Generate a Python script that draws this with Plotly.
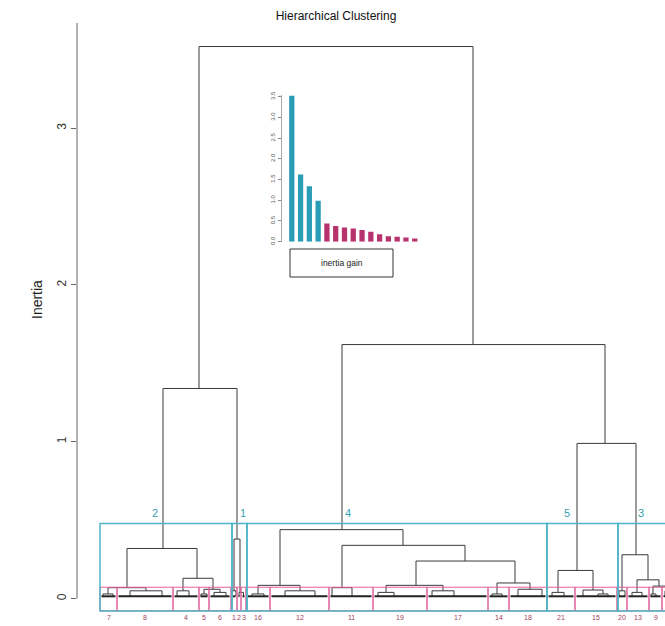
import plotly.graph_objects as go

W, H = 665, 626
FONT = "Liberation Sans, Arial, sans-serif"

title = "Hierarchical Clustering"
y_title = "Inertia"
legend_text = "inertia gain"

# inertia gain of the successive top merges (inset bar chart)
gain = [3.52, 1.62, 1.34, 0.99, 0.44, 0.38, 0.34, 0.32, 0.28, 0.24, 0.18, 0.13, 0.12, 0.10, 0.08]
n_clusters = 5

# dendrogram merges: leaf-order position of left / right child, merge height, child heights
link_xl = [99, 63, 242, 477, 180, 134, 242, 27, 522, 316, 458, 83, 537, 397, 286, 158, 8, 104, 483, 553]
link_xr = [373, 137, 505, 536, 303, 140, 365, 97, 548, 415, 493, 113, 559, 430, 343, 200, 46, 120, 503, 568]
link_h = [3.52, 1.34, 1.62, 0.99, 0.44, 0.38, 0.34, 0.32, 0.28, 0.24, 0.18, 0.13, 0.12, 0.10, 0.085, 0.085, 0.07, 0.06, 0.055, 0.08]
link_hl = [1.34, 0.32, 0.44, 0.18, 0.085, 0.05, 0.07, 0.07, 0.05, 0.085, 0.04, 0.05, 0.04, 0.03, 0.04, 0.03, 0.03, 0.03, 0.015, 0.03]
link_hr = [1.62, 0.38, 0.99, 0.28, 0.34, 0.04, 0.24, 0.13, 0.12, 0.10, 0.055, 0.06, 0.08, 0.06, 0.05, 0.05, 0.05, 0.04, 0.03, 0.05]

# low-level merges inside the sub-clusters
low_xl = [3, 30, 77, 101, 114, 132, 139, 152, 185, 232, 278, 332, 392, 418, 452, 498, 519, 532, 551, 565]
low_xr = [13, 62, 89, 107, 126, 136, 143.5, 164, 215, 252, 294, 354, 402, 442, 464, 508, 525, 542, 556, 571]
low_h = [0.03, 0.05, 0.05, 0.03, 0.04, 0.05, 0.04, 0.03, 0.05, 0.07, 0.04, 0.05, 0.03, 0.06, 0.04, 0.03, 0.05, 0.04, 0.03, 0.05]
leaf_h = 0.015

# sub-cluster partition (pink) and cluster partition (cyan)
sub_labels = ["7", "8", "4", "5", "6", "1", "2", "3", "16", "12", "11", "19", "17", "14", "18", "21", "15", "20", "13", "9", "10"]
sub_left = [0, 17, 73, 99, 109, 131, 137, 141, 146, 170, 229, 273, 327, 388, 409, 447, 475, 517, 527, 549, 562]
sub_right = sub_left[1:] + [620]
sub_top = 0.073

clu_labels = ["2", "1", "4", "5", "3"]
clu_left = [0, 132, 147, 447, 518]
clu_right = [132, 147, 447, 518, 640]
clu_label_pos = [55, 143, 248, 467, 541]
clu_top = 0.48

x_range = [-23, 565]
y_range = [-0.085, 3.67]

CYAN = "#4fb4c6"
PINK = "#e0609a"
DARK = "#3a3a3a"

fig = go.Figure()

# dendrogram links
lx, ly = [], []
for xl, xr, h, hl, hr in zip(link_xl, link_xr, link_h, link_hl, link_hr):
    lx += [xl, xl, xr, xr, None]
    ly += [hl, h, h, hr, None]
for xl, xr, h in zip(low_xl, low_xr, low_h):
    lx += [xl, xl, xr, xr, None]
    ly += [leaf_h, h, h, leaf_h, None]
fig.add_trace(go.Scatter(x=lx, y=ly, mode="lines", line=dict(color=DARK, width=1),
                         hoverinfo="skip", showlegend=False, xaxis="x", yaxis="y"))

# fused leaves baseline
bx, by = [], []
for a, b in zip(sub_left, sub_right):
    bx += [a + 1.5, b - 1.5, None]
    by += [leaf_h, leaf_h, None]
fig.add_trace(go.Scatter(x=bx, y=by, mode="lines", line=dict(color="#222222", width=2),
                         hoverinfo="skip", showlegend=False, xaxis="x", yaxis="y"))

shapes = []
annotations = []
for a, b in zip(sub_left, sub_right):
    shapes.append(dict(type="rect", xref="x", yref="y", x0=a, x1=b, y0=-0.078, y1=sub_top,
                       line=dict(color=PINK, width=1), layer="above"))
for a, b in zip(clu_left, clu_right):
    shapes.append(dict(type="rect", xref="x", yref="y", x0=a, x1=b, y0=-0.078, y1=clu_top,
                       line=dict(color=CYAN, width=1.5), layer="above"))
# main y axis line (R style, from 0 upward)
shapes.append(dict(type="line", xref="paper", yref="y", x0=0, x1=0, y0=0, y1=y_range[1],
                   line=dict(color="#666666", width=1)))

for lab, a, b in zip(sub_labels, sub_left, sub_right):
    annotations.append(dict(x=(a + b) / 2, y=-0.085, xref="x", yref="y", text=lab, showarrow=False,
                            yanchor="top", yshift=0, font=dict(family=FONT, size=7, color="#a0405e")))
for lab, p in zip(clu_labels, clu_label_pos):
    annotations.append(dict(x=p, y=0.545, xref="x", yref="y", text=lab, showarrow=False,
                            font=dict(family=FONT, size=11, color="#3a9fb2")))

# inset: inertia gain bars
bar_colors = [("#2a9db6" if i < n_clusters - 1 else "#b8336e") for i in range(len(gain))]
fig.add_trace(go.Bar(x=list(range(len(gain))), y=gain, marker=dict(color=bar_colors, line=dict(width=0)),
                     width=0.6, hoverinfo="skip", showlegend=False, xaxis="x2", yaxis="y2"))

# pixel helpers for paper coordinates
ml, mr, mt, mb = 77, 0, 23, 14
pw, ph = W - ml - mr, H - mt - mb
def px(xp):
    return (xp - ml) / pw
def py(yp):
    return (H - mb - yp) / ph

shapes.append(dict(type="rect", xref="paper", yref="paper", x0=px(290), x1=px(393), y0=py(277), y1=py(249),
                   line=dict(color="#333333", width=1)))
annotations.append(dict(x=px(341.5), y=py(263), xref="paper", yref="paper", text=legend_text, showarrow=False,
                        font=dict(family=FONT, size=8.5, color="#222222")))
annotations.append(dict(x=px(27), y=py(300), xref="paper", yref="paper", text=y_title, showarrow=False,
                        textangle=-90, font=dict(family=FONT, size=14, color="#222222")))

fig.update_layout(
    width=W, height=H,
    margin=dict(l=ml, r=mr, t=mt, b=mb),
    paper_bgcolor="white", plot_bgcolor="white",
    title=dict(text=title, x=336 / W, xanchor="center", y=1 - 16 / H, yanchor="middle",
               font=dict(family=FONT, size=12, color="#111111")),
    xaxis=dict(range=x_range, visible=False, domain=[0, 1]),
    yaxis=dict(range=y_range, tickvals=[0, 1, 2, 3], ticktext=["0", "1", "2", "3"], tickangle=-90,
               ticks="outside", ticklen=5, tickcolor="#666666", showline=False, showgrid=False,
               zeroline=False, tickfont=dict(family=FONT, size=12, color="#333333")),
    xaxis2=dict(domain=[px(283), px(420)], range=[-1, 14.6], anchor="y2", visible=False),
    yaxis2=dict(domain=[py(241.7), py(94.6)], range=[0, 3.55], anchor="free", position=px(280.5),
                tickvals=[0, 0.5, 1, 1.5, 2, 2.5, 3, 3.5],
                ticktext=["0.0", "0.5", "1.0", "1.5", "2.0", "2.5", "3.0", "3.5"],
                tickangle=-90, ticks="outside", ticklen=3, tickcolor="#888888",
                showline=True, linecolor="#aaaaaa", linewidth=1, showgrid=False, zeroline=False,
                tickfont=dict(family=FONT, size=6, color="#555555")),
    shapes=shapes, annotations=annotations,
    bargap=0.3,
)

fig.write_html("out.html", config={"displayModeBar": False},
               post_script="document.body.style.margin='0px';document.body.style.padding='0px';")
